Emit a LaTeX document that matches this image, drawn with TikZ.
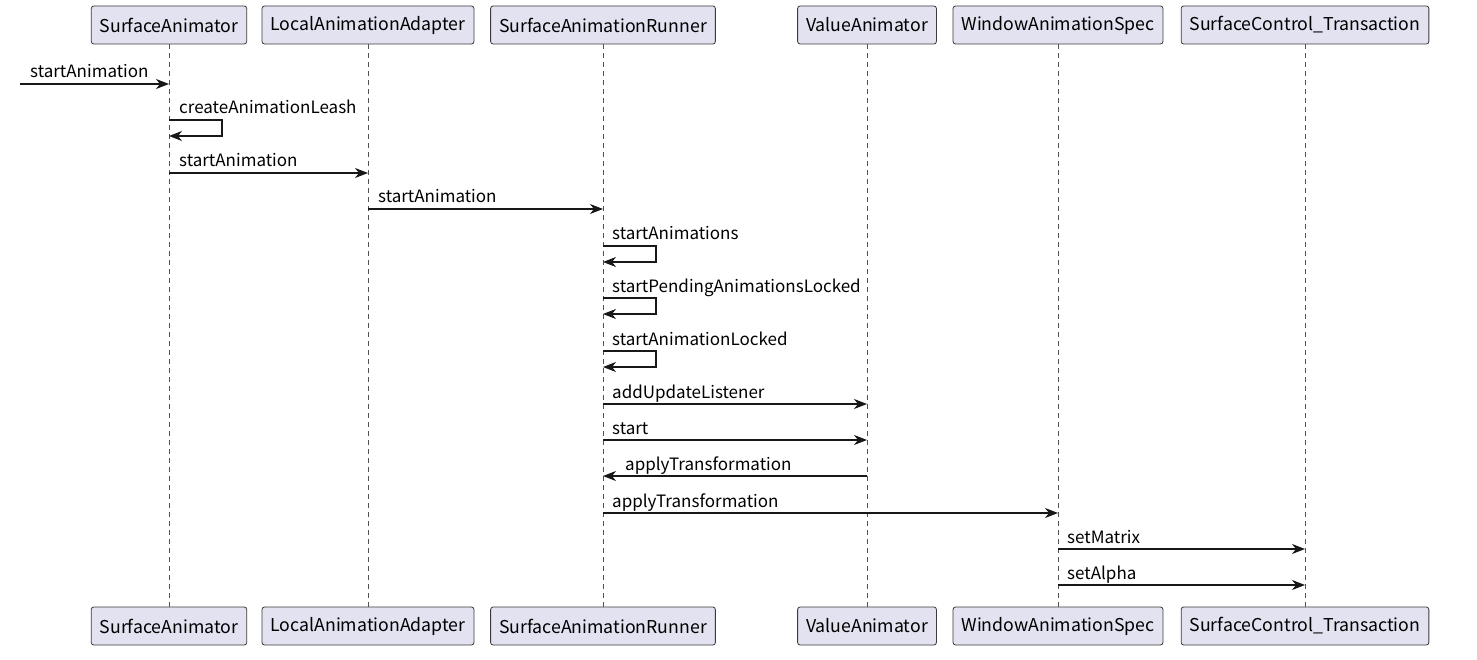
\documentclass[tikz,border=0pt]{standalone}
\usepackage{fontspec}
\setmainfont{Noto Sans CJK SC}
\usetikzlibrary{arrows.meta,calc}
\definecolor{boxfill}{HTML}{E2E2F0}
\definecolor{boxline}{HTML}{181818}
\definecolor{lifeln}{HTML}{181818}
\tikzset{
  part/.style={draw=boxline!85,fill=boxfill,rounded corners=2.5pt,line width=0.8pt,
    minimum height=38pt,inner xsep=8.5pt,anchor=center,font=\fontsize{17.7}{20}\selectfont},
  life/.style={draw=lifeln!75,dashed,dash pattern=on 5pt off 4pt,line width=0.7pt},
  msg/.style={draw=boxline,line width=1.1pt,-{Stealth[length=13pt,width=10pt,inset=4pt]}},
  lbl/.style={font=\fontsize{17}{20}\selectfont,anchor=base west,inner sep=0pt}
}
\begin{document}
\begin{tikzpicture}[x=1pt,y=-1pt]
\useasboundingbox (0,0) rectangle (1477,660);
\fill[white] (0,0) rectangle (1477,660);
% participants top
\node[part] (t1) at (169,25) {SurfaceAnimator};
\node[part] (t2) at (368,25) {LocalAnimationAdapter};
\node[part] (t3) at (603,25) {SurfaceAnimationRunner};
\node[part] (t4) at (867,25) {ValueAnimator};
\node[part] (t5) at (1058,25) {WindowAnimationSpec};
\node[part] (t6) at (1305,25) {SurfaceControl\_Transaction};
% participants bottom
\node[part] (b1) at (169,626) {SurfaceAnimator};
\node[part] (b2) at (368,626) {LocalAnimationAdapter};
\node[part] (b3) at (603,626) {SurfaceAnimationRunner};
\node[part] (b4) at (867,626) {ValueAnimator};
\node[part] (b5) at (1058,626) {WindowAnimationSpec};
\node[part] (b6) at (1305,626) {SurfaceControl\_Transaction};
% lifelines
\foreach \i in {1,...,6} {\draw[life] (t\i.south) -- (b\i.north);}
% messages
\coordinate (src) at (20,84);
\draw[msg] (src) -- (src -| t1);
\node[lbl] (l1) at (30,78) {startAnimation};
% self loop createAnimationLeash
\node[lbl] (l2) at (179,114) {createAnimationLeash};
\draw[msg] (t1 |- 0,120) -- ++(53,0) |- (t1 |- 0,136);
\draw[msg] (t1 |- 0,173) -- (t2 |- 0,173);
\node[lbl] (l3) at (179,167) {startAnimation};
\draw[msg] (t2 |- 0,209) -- (t3 |- 0,209);
\node[lbl] (l4) at (378,203) {startAnimation};
\node[lbl] (l5) at (612,240) {startAnimations};
\draw[msg] (t3 |- 0,246) -- ++(53,0) |- (t3 |- 0,262);
\node[lbl] (l6) at (612,292) {startPendingAnimationsLocked};
\draw[msg] (t3 |- 0,298) -- ++(53,0) |- (t3 |- 0,314);
\node[lbl] (l7) at (612,345) {startAnimationLocked};
\draw[msg] (t3 |- 0,351) -- ++(53,0) |- (t3 |- 0,367);
\draw[msg] (t3 |- 0,404) -- (t4 |- 0,404);
\node[lbl] (l8) at (612,398) {addUpdateListener};
\draw[msg] (t3 |- 0,440) -- (t4 |- 0,440);
\node[lbl] (l9) at (612,434) {start};
\draw[msg] (t4 |- 0,476) -- (t3 |- 0,476);
\node[lbl] (l10) at (625,470) {applyTransformation};
\draw[msg] (t3 |- 0,513) -- (t5 |- 0,513);
\node[lbl] (l11) at (612,507) {applyTransformation};
\draw[msg] (t5 |- 0,549) -- (t6 |- 0,549);
\node[lbl] (l12) at (1067,543) {setMatrix};
\draw[msg] (t5 |- 0,585) -- (t6 |- 0,585);
\node[lbl] (l13) at (1067,579) {setAlpha};
\end{tikzpicture}
\end{document}
